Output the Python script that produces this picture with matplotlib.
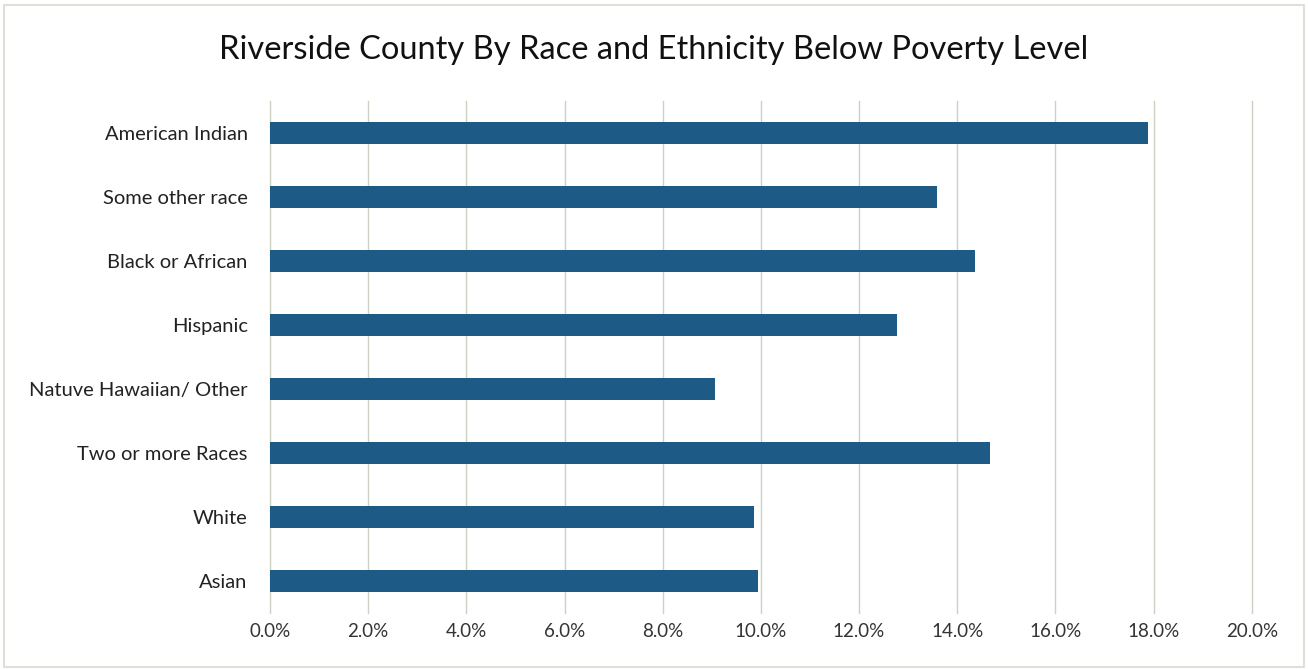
import matplotlib
matplotlib.use('Agg')
import matplotlib.pyplot as plt
from matplotlib.ticker import FuncFormatter
from matplotlib.patches import Rectangle

# values (percent below poverty level)
groups = ['American Indian', 'Some other race', 'Black or African', 'Hispanic',
          'Natuve Hawaiian/ Other', 'Two or more Races', 'White', 'Asian']
pct = [17.88, 13.58, 14.36, 12.77, 9.06, 14.66, 9.86, 9.94]
xticks = [0, 2, 4, 6, 8, 10, 12, 14, 16, 18, 20]

plt.rcParams['font.family'] = ['Lato', 'DejaVu Sans']

fig = plt.figure(figsize=(13.08, 6.69), dpi=100)
ax = fig.add_axes([0.2064, 0.0837, 0.957 - 0.2064, 0.849 - 0.0837])

pos = list(range(len(groups)))
ax.barh(pos, pct, height=0.35, color='#1d5b86', zorder=3)
ax.set_ylim(len(groups) - 0.5, -0.5)
ax.set_yticks(pos)
ax.set_yticklabels(groups, fontsize=14.5, color='#222222')

ax.set_xlim(0, 20)
ax.set_xticks(xticks)
ax.xaxis.set_major_formatter(FuncFormatter(lambda v, p: '%.1f%%' % v))
ax.tick_params(axis='x', length=0, pad=7, labelsize=13.5, labelcolor='#333333')
ax.tick_params(axis='y', length=0, pad=16)
ax.grid(axis='x', color='#cbd2c4', linewidth=1.0, zorder=0)
for line in ax.get_xgridlines():
    line.set_clip_on(False)
for s in ax.spines.values():
    s.set_visible(False)

fig.text(0.5, 0.925, 'Riverside County By Race and Ethnicity Below Poverty Level',
         ha='center', va='center', fontsize=23.5, color='#111111')

# thin frame around the chart area
fig.patches.append(Rectangle((0.003, 0.003), 0.994, 0.99, transform=fig.transFigure,
                             fill=False, edgecolor='#d6dbd0', linewidth=1.2))

plt.savefig('out.png', dpi=100)
